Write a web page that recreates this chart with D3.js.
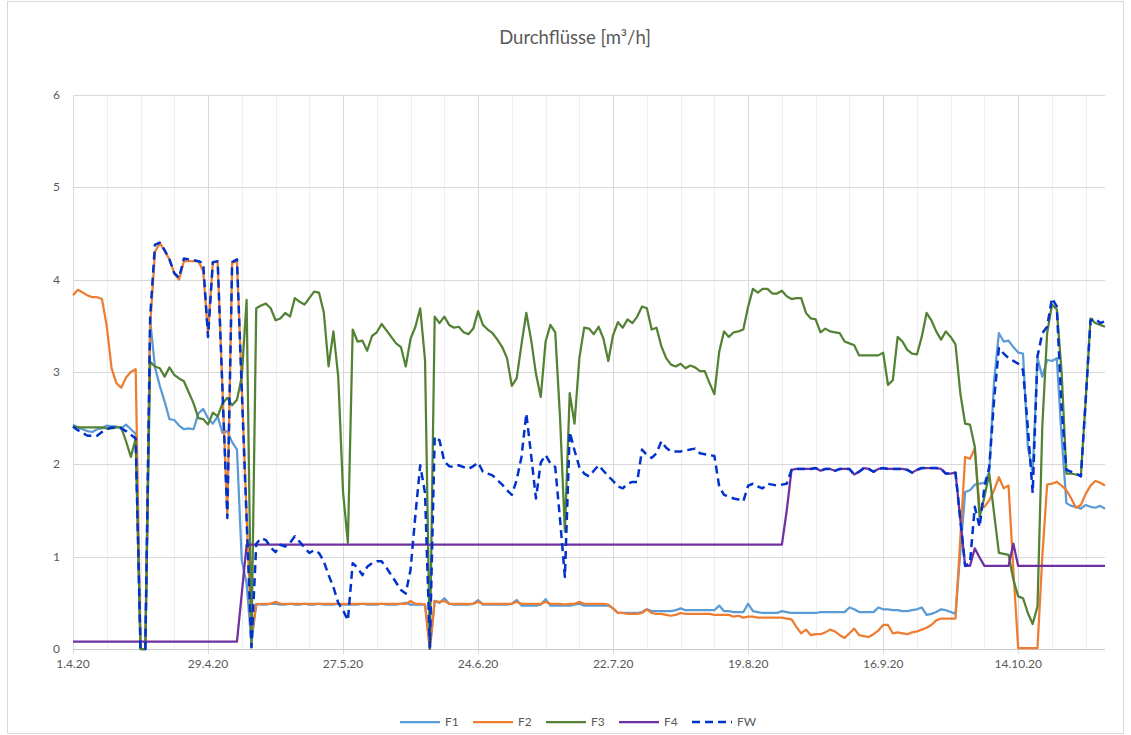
<!DOCTYPE html>
<html>
<head>
<meta charset="utf-8">
<script src="https://cdn.jsdelivr.net/npm/d3@7"></script>
<style>
  body { margin: 0; background: #fff; }
  svg { display: block; font-family: Lato, "Liberation Sans", sans-serif; }
</style>
</head>
<body>
<svg id="chart" width="1131" height="735"></svg>
<script>
// daily readings 1.4.20 - 1.11.20 (one value per day)
const startDate = new Date(2020, 3, 1);
const endDate = new Date(2020, 10, 1);

const tickLabels = ["1.4.20", "29.4.20", "27.5.20", "24.6.20", "22.7.20", "19.8.20", "16.9.20", "14.10.20"];
const yTicks = [0, 1, 2, 3, 4, 5, 6];
const seriesNames = ["F1", "F2", "F3", "F4", "FW"];

const f1 = [
  2.43, 2.40, 2.38, 2.36, 2.35, 2.38, 2.39,
  2.42, 2.41, 2.41, 2.39, 2.43, 2.38, 2.33,
  0.00, 0.00, 3.56, 3.05, 2.85, 2.68, 2.49,
  2.48, 2.42, 2.38, 2.39, 2.38, 2.55, 2.60,
  2.50, 2.44, 2.52, 2.34, 2.36, 2.24, 2.16,
  0.96, 0.71, 0.06, 0.49, 0.48, 0.48, 0.49,
  0.49, 0.48, 0.48, 0.49, 0.48, 0.48, 0.49,
  0.48, 0.48, 0.49, 0.48, 0.48, 0.48, 0.49,
  0.48, 0.48, 0.48, 0.48, 0.49, 0.48, 0.48,
  0.48, 0.49, 0.48, 0.48, 0.48, 0.49, 0.50,
  0.48, 0.48, 0.48, 0.48, 0.00, 0.52, 0.50,
  0.55, 0.49, 0.48, 0.48, 0.48, 0.48, 0.49,
  0.53, 0.48, 0.48, 0.48, 0.48, 0.48, 0.48,
  0.49, 0.53, 0.47, 0.47, 0.47, 0.47, 0.48,
  0.54, 0.47, 0.47, 0.47, 0.47, 0.47, 0.48,
  0.49, 0.47, 0.47, 0.47, 0.47, 0.47, 0.47,
  0.44, 0.39, 0.39, 0.39, 0.39, 0.39, 0.40,
  0.43, 0.41, 0.41, 0.41, 0.41, 0.41, 0.42,
  0.44, 0.42, 0.42, 0.42, 0.42, 0.42, 0.42,
  0.42, 0.47, 0.41, 0.41, 0.40, 0.40, 0.40,
  0.49, 0.41, 0.40, 0.39, 0.39, 0.39, 0.39,
  0.41, 0.40, 0.39, 0.39, 0.39, 0.39, 0.39,
  0.39, 0.40, 0.40, 0.40, 0.40, 0.40, 0.40,
  0.45, 0.43, 0.40, 0.40, 0.40, 0.40, 0.45,
  0.43, 0.43, 0.42, 0.42, 0.41, 0.41, 0.42,
  0.43, 0.45, 0.37, 0.38, 0.40, 0.43, 0.42,
  0.40, 0.38, 1.05, 1.70, 1.72, 1.78, 1.79,
  1.80, 1.92, 2.90, 3.42, 3.33, 3.34, 3.27,
  3.21, 3.20, 2.19, 1.90, 3.15, 2.95, 3.13,
  3.12, 3.15, 2.30, 1.58, 1.55, 1.54, 1.52,
  1.56, 1.54, 1.53, 1.55, 1.52
];

const f2 = [
  3.83, 3.89, 3.86, 3.83, 3.81, 3.81, 3.79,
  3.50, 3.04, 2.88, 2.83, 2.94, 3.00, 3.03,
  0.00, 0.00, 3.50, 4.30, 4.40, 4.31, 4.22,
  4.07, 4.00, 4.20, 4.20, 4.20, 4.20, 4.09,
  3.42, 4.19, 4.19, 2.80, 1.45, 4.18, 4.20,
  2.85, 1.44, 0.13, 0.48, 0.49, 0.49, 0.49,
  0.51, 0.49, 0.49, 0.49, 0.49, 0.49, 0.49,
  0.49, 0.49, 0.49, 0.49, 0.49, 0.49, 0.49,
  0.49, 0.49, 0.49, 0.49, 0.49, 0.49, 0.49,
  0.49, 0.49, 0.49, 0.49, 0.49, 0.49, 0.49,
  0.52, 0.49, 0.49, 0.48, 0.00, 0.52, 0.51,
  0.52, 0.49, 0.49, 0.49, 0.49, 0.49, 0.49,
  0.51, 0.49, 0.49, 0.49, 0.49, 0.49, 0.49,
  0.49, 0.51, 0.49, 0.49, 0.49, 0.49, 0.49,
  0.51, 0.49, 0.49, 0.49, 0.48, 0.49, 0.49,
  0.51, 0.49, 0.49, 0.49, 0.49, 0.49, 0.48,
  0.44, 0.39, 0.39, 0.38, 0.38, 0.38, 0.39,
  0.43, 0.39, 0.38, 0.38, 0.37, 0.36, 0.37,
  0.39, 0.38, 0.38, 0.38, 0.38, 0.38, 0.38,
  0.37, 0.37, 0.37, 0.37, 0.35, 0.36, 0.34,
  0.35, 0.35, 0.34, 0.34, 0.34, 0.34, 0.34,
  0.34, 0.33, 0.32, 0.24, 0.17, 0.21, 0.15,
  0.16, 0.16, 0.18, 0.21, 0.19, 0.15, 0.12,
  0.17, 0.22, 0.15, 0.14, 0.13, 0.16, 0.20,
  0.26, 0.26, 0.17, 0.18, 0.17, 0.16, 0.18,
  0.19, 0.21, 0.23, 0.26, 0.31, 0.33, 0.33,
  0.33, 0.33, 1.20, 2.08, 2.06, 2.17, 1.52,
  1.54, 1.61, 1.72, 1.86, 1.74, 1.77, 0.85,
  0.01, 0.01, 0.01, 0.01, 0.01, 1.00, 1.78,
  1.79, 1.81, 1.77, 1.72, 1.63, 1.53, 1.56,
  1.68, 1.77, 1.82, 1.80, 1.77
];

const f3 = [
  2.41, 2.40, 2.40, 2.40, 2.40, 2.40, 2.40,
  2.39, 2.39, 2.40, 2.40, 2.25, 2.08, 2.28,
  0.00, 0.00, 3.11, 3.06, 3.04, 2.95, 3.05,
  2.97, 2.93, 2.90, 2.78, 2.66, 2.50, 2.49,
  2.43, 2.56, 2.52, 2.66, 2.72, 2.64, 2.70,
  2.95, 3.78, 0.02, 3.69, 3.72, 3.74, 3.69,
  3.56, 3.58, 3.64, 3.60, 3.80, 3.76, 3.73,
  3.80, 3.87, 3.86, 3.65, 3.06, 3.44, 2.95,
  1.70, 1.15, 3.46, 3.33, 3.34, 3.23, 3.39,
  3.43, 3.52, 3.45, 3.38, 3.31, 3.27, 3.06,
  3.36, 3.49, 3.69, 3.13, 0.00, 3.60, 3.53,
  3.60, 3.51, 3.48, 3.49, 3.43, 3.41, 3.47,
  3.66, 3.51, 3.46, 3.42, 3.35, 3.27, 3.15,
  2.85, 2.93, 3.30, 3.64, 3.35, 2.98, 2.73,
  3.33, 3.51, 3.43, 2.50, 1.27, 2.77, 2.44,
  3.15, 3.48, 3.47, 3.41, 3.49, 3.36, 3.12,
  3.40, 3.54, 3.48, 3.57, 3.53, 3.60, 3.71,
  3.69, 3.46, 3.48, 3.28, 3.15, 3.08, 3.06,
  3.09, 3.04, 3.07, 3.05, 3.01, 3.01, 2.88,
  2.76, 3.22, 3.44, 3.38, 3.43, 3.44, 3.46,
  3.71, 3.90, 3.86, 3.90, 3.90, 3.85, 3.85,
  3.88, 3.82, 3.79, 3.80, 3.80, 3.64, 3.58,
  3.57, 3.43, 3.47, 3.44, 3.43, 3.42, 3.33,
  3.31, 3.29, 3.18, 3.18, 3.18, 3.18, 3.18,
  3.21, 2.86, 2.91, 3.38, 3.33, 3.24, 3.20,
  3.19, 3.38, 3.64, 3.56, 3.44, 3.35, 3.44,
  3.38, 3.30, 2.77, 2.44, 2.43, 2.19, 1.43,
  1.65, 1.90, 1.47, 1.04, 1.03, 1.02, 0.75,
  0.57, 0.55, 0.39, 0.27, 0.46, 2.41, 3.42,
  3.73, 3.68, 3.00, 1.90, 1.90, 1.89, 1.88,
  2.70, 3.58, 3.53, 3.51, 3.49
];

const f4 = [
  0.08, 0.08, 0.08, 0.08, 0.08, 0.08, 0.08,
  0.08, 0.08, 0.08, 0.08, 0.08, 0.08, 0.08,
  0.08, 0.08, 0.08, 0.08, 0.08, 0.08, 0.08,
  0.08, 0.08, 0.08, 0.08, 0.08, 0.08, 0.08,
  0.08, 0.08, 0.08, 0.08, 0.08, 0.08, 0.08,
  0.60, 1.13, 1.13, 1.13, 1.13, 1.13, 1.13,
  1.13, 1.13, 1.13, 1.13, 1.13, 1.13, 1.13,
  1.13, 1.13, 1.13, 1.13, 1.13, 1.13, 1.13,
  1.13, 1.13, 1.13, 1.13, 1.13, 1.13, 1.13,
  1.13, 1.13, 1.13, 1.13, 1.13, 1.13, 1.13,
  1.13, 1.13, 1.13, 1.13, 1.13, 1.13, 1.13,
  1.13, 1.13, 1.13, 1.13, 1.13, 1.13, 1.13,
  1.13, 1.13, 1.13, 1.13, 1.13, 1.13, 1.13,
  1.13, 1.13, 1.13, 1.13, 1.13, 1.13, 1.13,
  1.13, 1.13, 1.13, 1.13, 1.13, 1.13, 1.13,
  1.13, 1.13, 1.13, 1.13, 1.13, 1.13, 1.13,
  1.13, 1.13, 1.13, 1.13, 1.13, 1.13, 1.13,
  1.13, 1.13, 1.13, 1.13, 1.13, 1.13, 1.13,
  1.13, 1.13, 1.13, 1.13, 1.13, 1.13, 1.13,
  1.13, 1.13, 1.13, 1.13, 1.13, 1.13, 1.13,
  1.13, 1.13, 1.13, 1.13, 1.13, 1.13, 1.13,
  1.13, 1.50, 1.94, 1.95, 1.95, 1.95, 1.95,
  1.96, 1.93, 1.95, 1.95, 1.93, 1.95, 1.95,
  1.95, 1.89, 1.92, 1.96, 1.95, 1.92, 1.95,
  1.96, 1.95, 1.95, 1.95, 1.95, 1.94, 1.91,
  1.94, 1.96, 1.96, 1.96, 1.96, 1.95, 1.90,
  1.90, 1.91, 1.40, 0.90, 0.90, 1.09, 0.99,
  0.90, 0.90, 0.90, 0.90, 0.90, 0.90, 1.14,
  0.90, 0.90, 0.90, 0.90, 0.90, 0.90, 0.90,
  0.90, 0.90, 0.90, 0.90, 0.90, 0.90, 0.90,
  0.90, 0.90, 0.90, 0.90, 0.90
];

const fw = [
  2.41, 2.37, 2.34, 2.31, 2.31, 2.31, 2.35,
  2.38, 2.40, 2.40, 2.39, 2.36, 2.32, 2.28,
  0.00, 0.00, 3.60, 4.38, 4.40, 4.32, 4.22,
  4.07, 4.02, 4.23, 4.22, 4.21, 4.20, 4.18,
  3.38, 4.19, 4.20, 2.80, 1.42, 4.19, 4.22,
  2.80, 1.40, 0.02, 1.14, 1.20, 1.18, 1.10,
  1.05, 1.13, 1.11, 1.15, 1.22, 1.16, 1.10,
  1.04, 1.07, 1.04, 0.95, 0.80, 0.67, 0.50,
  0.42, 0.31, 0.93, 0.88, 0.80, 0.89, 0.93,
  0.95, 0.95, 0.88, 0.80, 0.72, 0.64, 0.60,
  0.86, 1.45, 1.99, 1.69, 0.02, 2.30, 2.26,
  2.03, 1.98, 1.97, 1.99, 1.97, 1.95, 1.98,
  2.02, 1.92, 1.90, 1.88, 1.83, 1.78, 1.72,
  1.67, 1.83, 2.08, 2.55, 2.10, 1.63, 2.02,
  2.10, 2.01, 1.97, 1.40, 0.78, 2.35, 2.15,
  1.97, 1.90, 1.87, 1.93, 1.99, 1.93, 1.87,
  1.82, 1.76, 1.74, 1.79, 1.81, 1.81, 2.16,
  2.10, 2.07, 2.12, 2.25, 2.18, 2.14, 2.14,
  2.14, 2.15, 2.16, 2.17, 2.12, 2.11, 2.10,
  2.09, 1.76, 1.67, 1.65, 1.63, 1.62, 1.60,
  1.77, 1.79, 1.76, 1.74, 1.79, 1.78, 1.77,
  1.78, 1.79, 1.94, 1.95, 1.95, 1.95, 1.95,
  1.96, 1.93, 1.95, 1.95, 1.93, 1.95, 1.95,
  1.95, 1.89, 1.92, 1.96, 1.95, 1.92, 1.95,
  1.96, 1.95, 1.95, 1.95, 1.95, 1.94, 1.91,
  1.94, 1.96, 1.96, 1.96, 1.96, 1.95, 1.90,
  1.90, 1.91, 1.40, 0.90, 0.93, 1.54, 1.32,
  1.75, 1.97, 2.70, 3.26, 3.20, 3.15, 3.12,
  3.09, 3.02, 2.40, 1.69, 3.17, 3.42, 3.49,
  3.80, 3.71, 2.60, 1.94, 1.92, 1.90, 1.87,
  2.70, 3.56, 3.58, 3.53, 3.55
];

const seriesValues = [f1, f2, f3, f4, fw];
const seriesColors = ["#5B9BD5", "#ED7D31", "#548235", "#7030A0", "#0033CC"];

const svg = d3.select("#chart");
const W = +svg.attr("width"), H = +svg.attr("height");
const margin = {top: 95, right: 26, bottom: 86, left: 73};
const parseTick = d3.timeParse("%d.%m.%y");

const days = d3.timeDay.range(startDate, d3.timeDay.offset(endDate, 1));

const x = d3.scaleTime()
    .domain([startDate, endDate])
    .range([margin.left, W - margin.right]);
const y = d3.scaleLinear()
    .domain([0, 6])
    .range([H - margin.bottom, margin.top]);

// chart frame
svg.append("rect")
    .attr("x", 7.5).attr("y", 1.5)
    .attr("width", W - 15).attr("height", H - 3)
    .attr("fill", "#fff")
    .attr("stroke", "#d9d9d9");

// minor vertical grid, every 7 days
svg.append("g")
  .selectAll("line")
  .data(d3.timeDay.range(startDate, endDate, 7))
  .enter().append("line")
    .attr("x1", d => Math.round(x(d)) + 0.5)
    .attr("x2", d => Math.round(x(d)) + 0.5)
    .attr("y1", y(6)).attr("y2", y(0))
    .attr("stroke", "#eeeeee");

// horizontal grid
svg.append("g")
  .selectAll("line")
  .data(yTicks)
  .enter().append("line")
    .attr("x1", x(startDate)).attr("x2", x(endDate))
    .attr("y1", d => Math.round(y(d)) + 0.5)
    .attr("y2", d => Math.round(y(d)) + 0.5)
    .attr("stroke", "#d9d9d9");

// major vertical grid + tick marks below the axis
const tickDates = tickLabels.map(parseTick);
svg.append("g")
  .selectAll("line")
  .data(tickDates)
  .enter().append("line")
    .attr("x1", d => Math.round(x(d)) + 0.5)
    .attr("x2", d => Math.round(x(d)) + 0.5)
    .attr("y1", y(6)).attr("y2", y(0) + 5)
    .attr("stroke", "#d9d9d9");

// x axis line
svg.append("line")
    .attr("x1", x(startDate)).attr("x2", x(endDate))
    .attr("y1", Math.round(y(0)) + 0.5).attr("y2", Math.round(y(0)) + 0.5)
    .attr("stroke", "#c8c8c8");

// tick labels
svg.append("g")
  .selectAll("text")
  .data(tickLabels)
  .enter().append("text")
    .attr("x", d => x(parseTick(d)))
    .attr("y", y(0) + 19)
    .attr("text-anchor", "middle")
    .style("font-size", "12px")
    .style("fill", "#595959")
    .text(d => d);

svg.append("g")
  .selectAll("text")
  .data(yTicks)
  .enter().append("text")
    .attr("x", margin.left - 13)
    .attr("y", d => y(d) + 4)
    .attr("text-anchor", "end")
    .style("font-size", "12px")
    .style("fill", "#595959")
    .text(d => d);

// title
svg.append("text")
    .attr("x", 575)
    .attr("y", 44)
    .attr("text-anchor", "middle")
    .style("font-size", "18.5px")
    .style("fill", "#595959")
    .text("Durchflüsse [m³/h]");

// lines
const line = d3.line()
    .x((d, i) => x(days[i]))
    .y(d => y(d));

seriesNames.forEach((name, k) => {
  const dashed = name === "FW";
  svg.append("path")
      .datum(seriesValues[k])
      .attr("fill", "none")
      .attr("stroke", seriesColors[k])
      .attr("stroke-width", dashed ? 2.5 : 2.25)
      .attr("stroke-linejoin", "round")
      .attr("stroke-dasharray", dashed ? "8,5" : null)
      .attr("d", line);
});

// legend
const legend = svg.append("g").attr("transform", "translate(400,722)");
seriesNames.forEach((name, k) => {
  const item = legend.append("g").attr("transform", "translate(" + (k * 73) + ",0)");
  item.append("line")
      .attr("x1", 0).attr("x2", 40)
      .attr("stroke", seriesColors[k])
      .attr("stroke-width", name === "FW" ? 2.5 : 2.25)
      .attr("stroke-dasharray", name === "FW" ? "8,5" : null);
  item.append("text")
      .attr("x", 45).attr("y", 4)
      .style("font-size", "12px")
      .style("fill", "#595959")
      .text(name);
});
</script>
</body>
</html>
